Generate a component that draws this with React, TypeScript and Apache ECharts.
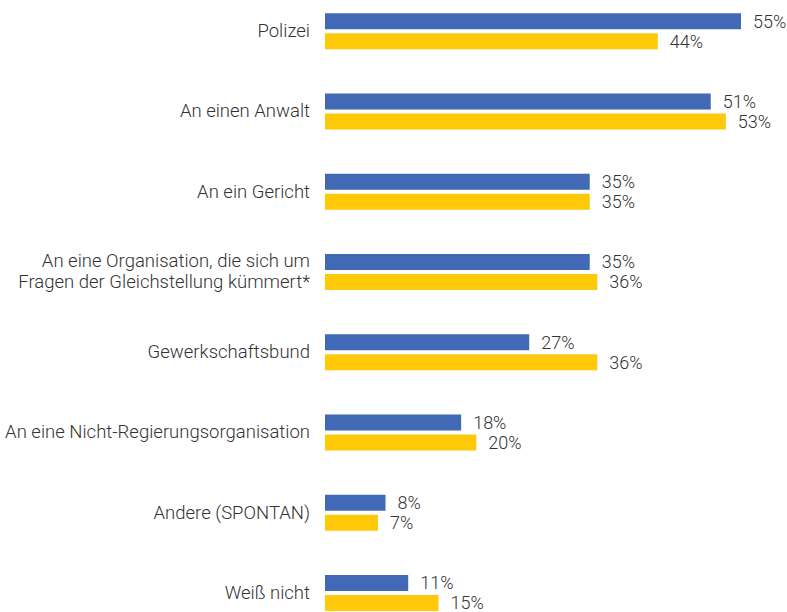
import React, { useEffect, useRef } from "react";
import * as echarts from "echarts";

const categories = [
  "Polizei",
  "An einen Anwalt",
  "An ein Gericht",
  "An eine Organisation, die sich um\nFragen der Gleichstellung kümmert*",
  "Gewerkschaftsbund",
  "An eine Nicht-Regierungsorganisation",
  "Andere (SPONTAN)",
  "Weiß nicht",
];
const seriesBlue = [55, 51, 35, 35, 27, 18, 8, 11];
const seriesYellow = [44, 53, 35, 36, 36, 20, 7, 15];

const FONT = 'Roboto, sans-serif';

export default function App() {
  const ref = useRef<HTMLDivElement>(null);
  useEffect(() => {
    const chart = echarts.init(ref.current!, undefined, { renderer: "svg" });
    const label = {
      show: true,
      position: "right" as const,
      distance: 12,
      formatter: "{c}%",
      color: "#333333",
      fontSize: 18,
      fontWeight: 300,
      fontFamily: FONT,
    };
    chart.setOption({
      animation: false,
      grid: { left: 325, top: 0, width: 60 * (416 / 55), height: 642 },
      xAxis: {
        type: "value",
        min: 0,
        max: 60,
        show: false,
      },
      yAxis: {
        type: "category",
        data: categories,
        inverse: true,
        axisLine: { show: false },
        axisTick: { show: false },
        axisLabel: {
          margin: 15,
          color: "#333333",
          fontSize: 18.5,
          fontWeight: 300,
          fontFamily: FONT,
          lineHeight: 21,
          align: "right",
        },
      },
      series: [
        {
          type: "bar",
          data: seriesBlue,
          barWidth: 16,
          barGap: "25%",
          itemStyle: { color: "#4169b5" },
          label,
        },
        {
          type: "bar",
          data: seriesYellow,
          barWidth: 16,
          itemStyle: { color: "#ffc90a" },
          label,
        },
      ],
    });
    return () => chart.dispose();
  }, []);
  return (
    <div
      ref={ref}
      style={{ position: "absolute", left: 0, top: -9, width: 787, height: 651 }}
    />
  );
}
